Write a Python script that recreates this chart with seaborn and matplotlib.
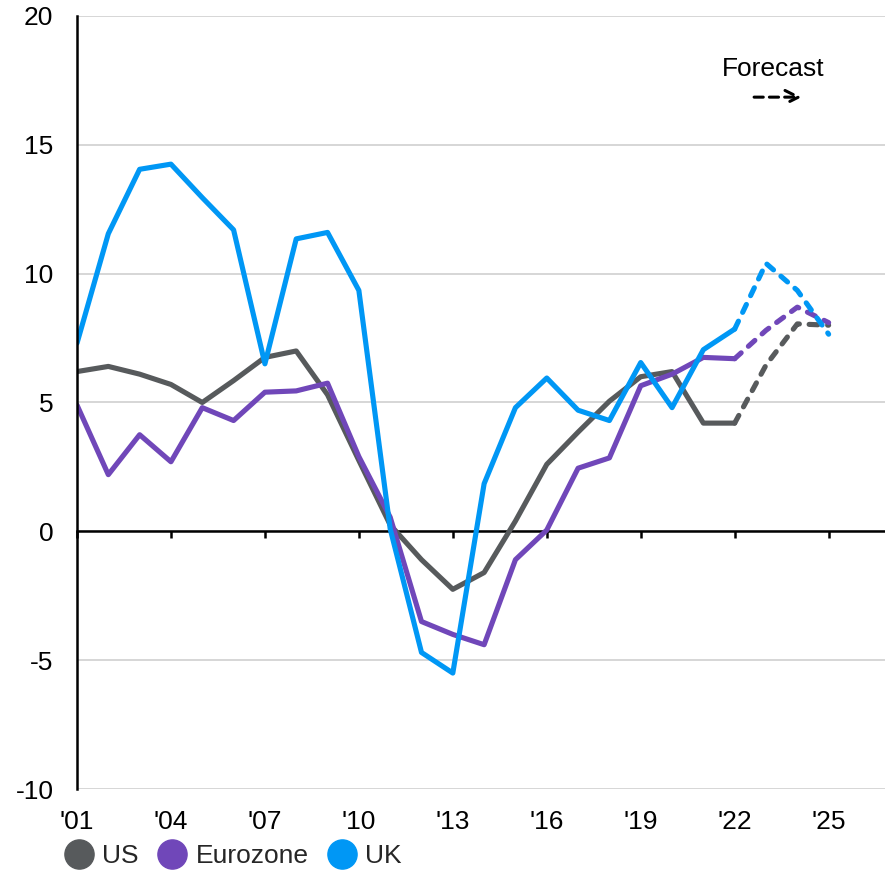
import numpy as np
import pandas as pd
import matplotlib.pyplot as plt
import seaborn as sns
from matplotlib.lines import Line2D

# data
years = list(range(2001, 2026))
us = [6.2, 6.4, 6.1, 5.7, 5.0, 5.85, 6.75, 7.0, 5.3, 2.75, 0.25, -1.1, -2.25,
      -1.6, 0.4, 2.6, 3.85, 5.05, 6.0, 6.2, 4.2, 4.2, 6.45, 8.05, 8.0]
eurozone = [4.9, 2.2, 3.75, 2.7, 4.8, 4.3, 5.4, 5.45, 5.75, 2.9, 0.55, -3.5, -4.0,
            -4.4, -1.1, 0.05, 2.45, 2.85, 5.65, 6.1, 6.75, 6.7, 7.8, 8.7, 8.1]
uk = [7.3, 11.55, 14.05, 14.25, 12.95, 11.7, 6.5, 11.35, 11.6, 9.35, 0.1, -4.7, -5.5,
      1.85, 4.8, 5.95, 4.7, 4.3, 6.55, 4.8, 7.05, 7.85, 10.4, 9.35, 7.65]
forecast_start = 2022
countries = ['US', 'Eurozone', 'UK']
colors = ['#575a5c', '#7047b9', '#0097f5']
tick_years = list(range(2001, 2026, 3))
tick_labels = ["'%02d" % (y % 100) for y in tick_years]
y_ticks = [-10, -5, 0, 5, 10, 15, 20]

# long table, forecast part shares the 2022 point with the actual part
rows = []
for name, vals in zip(countries, [us, eurozone, uk]):
    for yr, v in zip(years, vals):
        if yr <= forecast_start:
            rows.append((name, 'Actual', yr, v))
        if yr >= forecast_start:
            rows.append((name, 'Forecast', yr, v))
df = pd.DataFrame(rows, columns=['country', 'period', 'year', 'value'])

sns.set_theme(style='white')
plt.rcParams['font.family'] = ['Liberation Sans', 'DejaVu Sans']
plt.rcParams['axes.unicode_minus'] = False

fig = plt.figure(figsize=(8.85, 8.73), dpi=100)
ax = fig.add_axes([0.087, 0.0962, 0.913, 0.8855])

sns.lineplot(data=df, x='year', y='value', hue='country', style='period',
             hue_order=countries, style_order=['Actual', 'Forecast'],
             palette=colors, dashes={'Actual': '', 'Forecast': (1.7, 1.9)},
             linewidth=3.7, estimator=None, legend=False, ax=ax)
for ln in ax.lines:
    ln.set_dash_capstyle('round')
    ln.set_solid_joinstyle('round')

ax.set_xlim(2001, 2026.8)
ax.set_ylim(-10, 20)
ax.set_xlabel('')
ax.set_ylabel('')
ax.set_yticks(y_ticks)
ax.set_yticklabels([str(t) for t in y_ticks])
ax.yaxis.grid(True, color='#d0d0d0', lw=1.2)
ax.xaxis.grid(False)

for s in ['top', 'right']:
    ax.spines[s].set_visible(False)
ax.spines['left'].set_color('black')
ax.spines['left'].set_linewidth(1.8)
ax.spines['bottom'].set_position(('data', 0))
ax.spines['bottom'].set_color('black')
ax.spines['bottom'].set_linewidth(1.8)
ax.spines['bottom'].set_zorder(1.5)

ax.set_xticks(tick_years)
ax.tick_params(axis='x', direction='out', length=5, width=1.8, color='black',
               labelbottom=False, bottom=True)
ax.tick_params(axis='y', length=0, pad=17, labelsize=19, labelcolor='black')

sec = ax.secondary_xaxis(0)
sec.set_xticks(tick_years)
sec.set_xticklabels(tick_labels)
sec.tick_params(length=0, pad=15, labelsize=19, labelcolor='black')
sec.spines['bottom'].set_visible(False)

# forecast label
ax.text(0.862, 0.931, 'Forecast', transform=ax.transAxes, ha='center', va='center',
        fontsize=19, color='black')
ax.annotate('', xy=(0.897, 0.895), xytext=(0.838, 0.895), xycoords='axes fraction',
            arrowprops=dict(arrowstyle='->', lw=2.2, ls=(0, (3, 2)), color='black',
                            mutation_scale=24, shrinkA=0, shrinkB=0))

handles = [Line2D([], [], ls='', marker='o', markersize=21, color=c) for c in colors]
fig.legend(handles, countries, loc='center left', bbox_to_anchor=(0.056, 0.019),
           ncol=3, frameon=False, fontsize=19, handletextpad=0.3,
           columnspacing=0.65, handlelength=1.2, borderpad=0)

fig.savefig('out.png', dpi=100)
